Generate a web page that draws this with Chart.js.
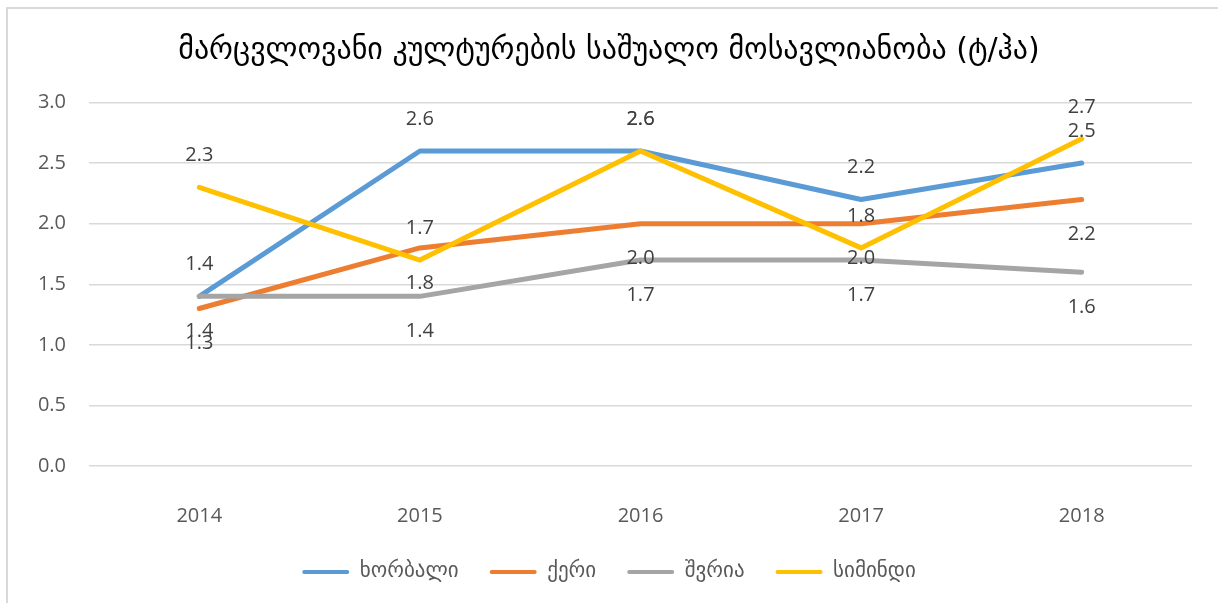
<!DOCTYPE html>
<html>
<head>
<meta charset="utf-8">
<title>მოსავლიანობა</title>
<script src="https://cdn.jsdelivr.net/npm/chart.js@4/dist/chart.umd.min.js"></script>
<style>
  html, body { margin: 0; padding: 0; background: #fff; overflow: hidden; }
  #frame { position: absolute; left: 6px; top: 7px; width: 1400px; height: 800px;
           border-top: 2px solid #d9d9d9; border-left: 2px solid #d9d9d9; }
  #wrap { position: absolute; left: 0; top: 0; width: 1218px; height: 603px; }
</style>
</head>
<body>
<div id="frame"></div>
<div id="wrap"><canvas id="chart" width="1218" height="603"></canvas></div>
<script>

// values
var years = ["2014", "2015", "2016", "2017", "2018"];
var wheat = [1.4, 2.6, 2.6, 2.2, 2.5];
var barley = [1.3, 1.8, 2.0, 2.0, 2.2];
var oats = [1.4, 1.4, 1.7, 1.7, 1.6];
var maize = [2.3, 1.7, 2.6, 1.8, 2.7];
var seriesNames = ["ხორბალი", "ქერი", "შვრია", "სიმინდი"];
var chartTitle = "მარცვლოვანი კულტურების საშუალო მოსავლიანობა (ტ/ჰა)";

var colors = ["#5B9BD5", "#ED7D31", "#A5A5A5", "#FFC000"];
var numFont = "'Open Sans', sans-serif";
var geoFont = "'DejaVu Sans', sans-serif";

function makeSet(i, values, labelShift, order) {
	return {
		label: seriesNames[i],
		data: values,
		borderColor: colors[i],
		backgroundColor: colors[i],
		borderWidth: 5,
		borderCapStyle: "round",
		borderJoinStyle: "round",
		pointRadius: 0,
		pointHoverRadius: 0,
		tension: 0,
		order: order,
		labelShift: labelShift
	};
}

// value labels above / below each point
var valueLabels = {
	id: "valueLabels",
	afterDatasetsDraw: function (chart) {
		var ctx = chart.ctx;
		ctx.save();
		ctx.font = "20px " + numFont;
		ctx.fillStyle = "#404040";
		ctx.textAlign = "center";
		ctx.textBaseline = "middle";
		chart.data.datasets.forEach(function (ds, i) {
			var meta = chart.getDatasetMeta(i);
			meta.data.forEach(function (pt, j) {
				ctx.fillText(ds.data[j].toFixed(1), pt.x, pt.y + ds.labelShift);
			});
		});
		ctx.restore();
	}
};

var ctx = document.getElementById("chart");

new Chart(ctx, {
	type: "line",
	data: {
		labels: years,
		datasets: [
			makeSet(0, wheat, -32, 4),
			makeSet(1, barley, 35, 3),
			makeSet(2, oats, 35, 2),
			makeSet(3, maize, -32, 1)
		]
	},
	options: {
		responsive: false,
		animation: false,
		layout: { padding: { left: 0, right: 0, top: 0, bottom: 10.5 } },
		plugins: {
			tooltip: { enabled: false },
			title: {
				display: true,
				text: chartTitle,
				color: "#000",
				font: { family: geoFont, size: 30, weight: "normal", lineHeight: 1.2 },
				padding: { top: 33, bottom: 33.5 }
			},
			legend: {
				position: "bottom",
				labels: {
					color: "#595959",
					font: { family: geoFont, size: 21 },
					boxWidth: 47,
					boxHeight: 4,
					padding: 31,
					sort: function (a, b) { return a.datasetIndex - b.datasetIndex; },
					generateLabels: function (chart) {
						var items = Chart.defaults.plugins.legend.labels.generateLabels(chart);
						items.forEach(function (it) {
							it.lineWidth = 0;
							it.fillStyle = colors[it.datasetIndex];
							it.borderRadius = 2;
						});
						return items;
					}
				}
			}
		},
		scales: {
			x: {
				offset: true,
				grid: { display: false },
				border: { display: false },
				ticks: { color: "#595959", font: { family: numFont, size: 20 }, padding: 30 },
				afterFit: function (scale) { scale.height = 64.5; }
			},
			y: {
				min: 0,
				max: 3,
				grid: { color: "#d9d9d9", lineWidth: 1.5, drawTicks: false },
				border: { display: false },
				ticks: {
					stepSize: 0.5,
					color: "#595959",
					font: { family: numFont, size: 20 },
					padding: 23,
					callback: function (v) { return v.toFixed(1); }
				},
				afterFit: function (scale) { scale.width = 89; }
			},
			yRight: {
				position: "right",
				display: true,
				grid: { display: false },
				border: { display: false },
				ticks: { display: false },
				afterFit: function (scale) { scale.width = 26; }
			}
		}
	},
	plugins: [valueLabels]
});

</script>
</body>
</html>
